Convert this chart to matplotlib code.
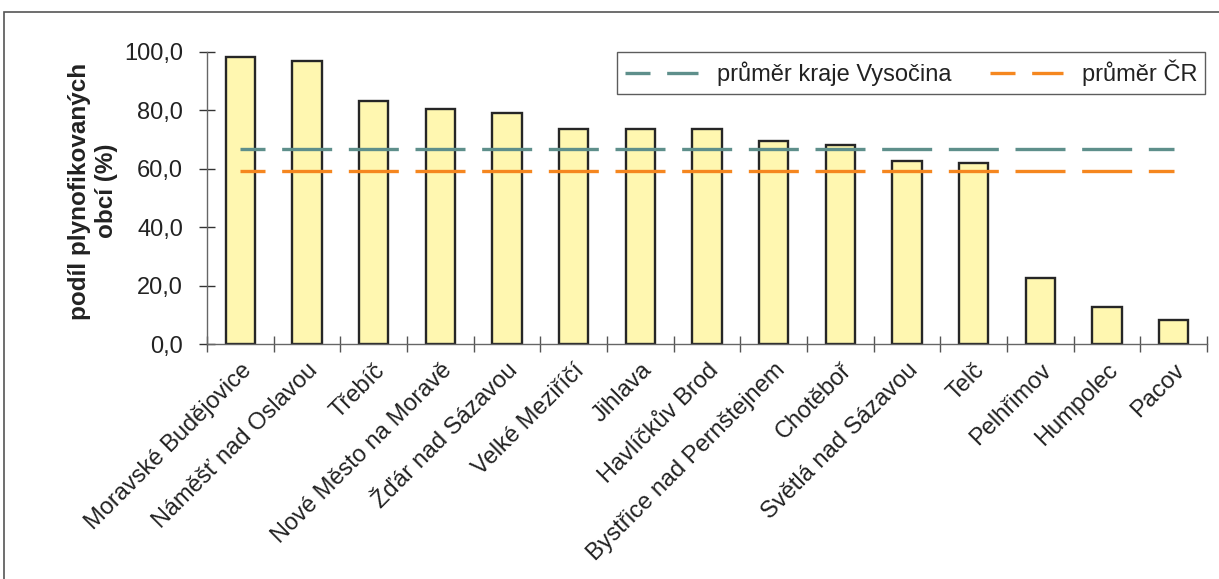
import matplotlib
matplotlib.use('Agg')
import matplotlib.pyplot as plt
from matplotlib.patches import Rectangle
from matplotlib.ticker import FixedLocator, FuncFormatter

plt.rcParams['font.family'] = ['Liberation Sans', 'DejaVu Sans']
plt.rcParams['lines.scale_dashes'] = False

# data
towns = ['Moravské Budějovice', 'Náměšť nad Oslavou', 'Třebíč',
         'Nové Město na Moravě', 'Žďár nad Sázavou', 'Velké Meziříčí',
         'Jihlava', 'Havlíčkův Brod', 'Bystřice nad Pernštejnem',
         'Chotěboř', 'Světlá nad Sázavou', 'Telč', 'Pelhřimov',
         'Humpolec', 'Pacov']
share = [98.1, 96.7, 83.1, 80.4, 79.0, 73.5, 73.6, 73.6, 69.6, 68.2,
         62.7, 62.0, 22.6, 12.6, 8.2]
avg_region = 66.8
avg_cr = 59.3
label_region = 'průměr kraje Vysočina'
label_cr = 'průměr ČR'
ylabel = 'podíl plynofikovaných\nobcí (%)'

FS = 17
W, H = 1219, 579
fig = plt.figure(figsize=(W / 100, H / 100), dpi=100)
ax = fig.add_axes([207 / W, 1 - 344 / H, 1000 / W, (344 - 51.7) / H])

x = list(range(len(towns)))
ax.bar(x, share, width=0.44, color='#FFF7B0', edgecolor='#262626',
       linewidth=1.7, zorder=2)

dash = (18, (36, 12))
ax.plot(x, [avg_region] * len(x), color='#5E8F8B', lw=2.4,
        linestyle=dash, dash_capstyle='butt',
        label=label_region, zorder=3)
ax.plot(x, [avg_cr] * len(x), color='#F5871F', lw=2.4,
        linestyle=dash, dash_capstyle='butt',
        label=label_cr, zorder=3)

ax.set_xlim(-0.5, len(towns) - 0.5)
ax.set_ylim(0, 100)

for side in ['top', 'right']:
    ax.spines[side].set_visible(False)
for side in ['left', 'bottom']:
    ax.spines[side].set_color('#666666')
    ax.spines[side].set_linewidth(1.0)

ax.set_yticks([0, 20, 40, 60, 80, 100])
ax.yaxis.set_major_formatter(FuncFormatter(lambda v, p: f'{v:.1f}'.replace('.', ',')))
ax.tick_params(axis='y', direction='inout', length=11.5, width=1.0,
               color='#333333', labelsize=FS, pad=11.5, labelcolor='#222222')

ax.set_xticks(x)
ax.set_xticklabels(towns, rotation=45, ha='right', va='top',
                   rotation_mode='anchor', fontsize=FS, color='#222222')
ax.tick_params(axis='x', which='major', length=0, pad=11)
ax.xaxis.set_minor_locator(FixedLocator([i - 0.5 for i in range(len(towns) + 1)]))
ax.tick_params(axis='x', which='minor', direction='inout', length=11.5,
               width=1.0, color='#555555')

ax.set_ylabel(ylabel, fontsize=FS + 0.5, fontweight='bold', color='#222222',
              linespacing=1.2)
ax.yaxis.set_label_coords(-0.089, 0.523)

# legend box stretched to the frame seen in the reference
leg = ax.legend(loc='upper left',
                bbox_to_anchor=(617 / W, 1 - 95.3 / H, 588 / W, 43.6 / H),
                bbox_transform=fig.transFigure, ncol=2, fontsize=FS,
                mode='expand', frameon=True, fancybox=False, borderpad=0.33,
                handlelength=3.1, handletextpad=0.8, columnspacing=0.95,
                borderaxespad=0)
leg.get_frame().set_edgecolor('#333333')
leg.get_frame().set_linewidth(1.0)
for t in leg.get_texts():
    t.set_color('#222222')

# outer chart frame (cut off at the right and bottom in the reference)
fig.patches.append(Rectangle((4 / W, -0.1), 1.2, 1.1 - 12 / H,
                             transform=fig.transFigure, fill=False,
                             edgecolor='#555555', linewidth=1.2))

fig.savefig('out.png', dpi=100)
